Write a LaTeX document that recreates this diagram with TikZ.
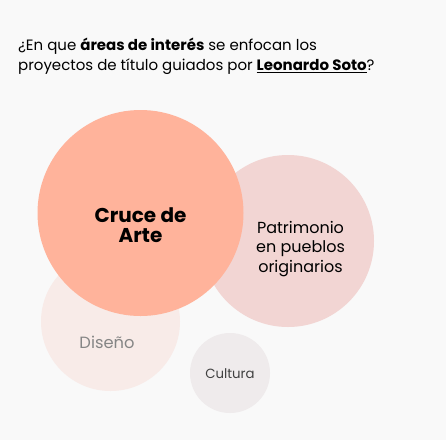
\documentclass[tikz,border=0pt]{standalone}
\usepackage{fontspec}
\setmainfont{Poppins}
\usepackage{tikz}

\definecolor{bgcol}{HTML}{F9F9F9}
\definecolor{artecol}{HTML}{FFB39B}
\definecolor{patricol}{HTML}{F2D5D3}
\definecolor{disecol}{HTML}{F8EBE8}
\definecolor{cultcol}{HTML}{EFEBEC}
\definecolor{greytext}{HTML}{858585}

\begin{document}
\begin{tikzpicture}[x=1pt, y=-1pt,
  bubble/.style={circle, draw=none, inner sep=0pt},
  tag/.style={align=center, inner sep=0pt}]
  \fill[bgcol] (0,0) rectangle (446,440);
  \useasboundingbox (0,0) rectangle (446,440);

  \node[anchor=north west, align=left, inner sep=0pt, font=\fontsize{15}{20}\selectfont] (title) at (18,38)
    {¿En que \textbf{áreas de interés} se enfocan los\\
     proyectos de título guiados por \textbf{\underline{Leonardo Soto}}?};

  \node[bubble, fill=disecol, minimum size=139pt] (dise) at (110.5,321.5) {};
  \node[bubble, fill=cultcol, minimum size=80pt] (cult) at (230,373) {};
  \node[bubble, fill=patricol, minimum size=172pt] (patri) at (288,241) {};
  \node[bubble, fill=artecol, minimum size=206pt] (arte) at (140.5,213) {};

  \node[tag, font=\fontsize{20}{20.5}\selectfont\bfseries] (artelbl) at (140.5,225) {Cruce de\\Arte};
  \node[tag, font=\fontsize{16}{19.5}\selectfont] (patrilbl) at (300.5,249) {Patrimonio\\en pueblos\\originarios};
  \node[tag, font=\fontsize{16.3}{18}\selectfont, text=greytext] (diselbl) at (107,342) {Diseño};
  \node[tag, font=\fontsize{13.3}{15}\selectfont, text=black!75] (cultlbl) at (230,374) {Cultura};
\end{tikzpicture}
\end{document}
